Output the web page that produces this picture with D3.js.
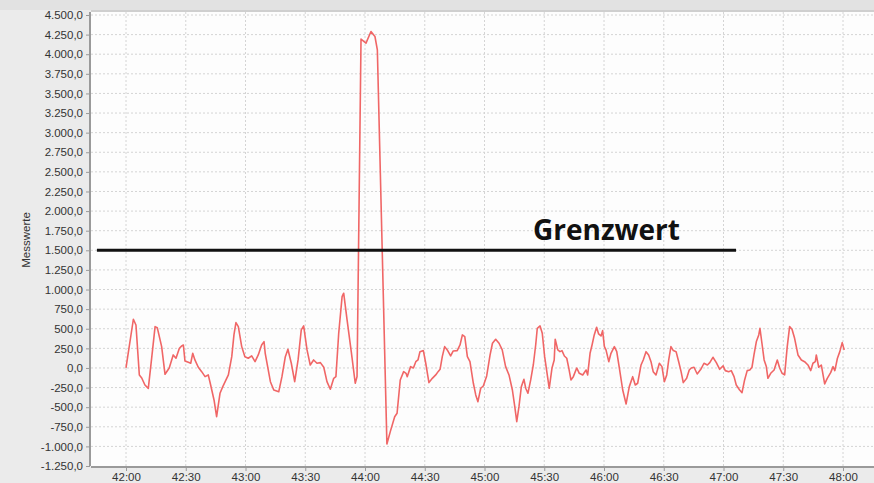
<!DOCTYPE html>
<html>
<head>
<meta charset="utf-8">
<script src="https://cdn.jsdelivr.net/npm/d3@7"></script>
<style>
  html, body { margin: 0; padding: 0; background: #ebebeb; }
  svg { display: block; }
</style>
</head>
<body>
<svg id="visualization" width="874" height="483"></svg>
<script>
// seconds after 42:00
const secs = [
  0, 3.7, 5.0, 6.7, 7.9, 9.5, 11.2, 12.9, 14.6, 15.7, 17.9, 19.6, 21.7, 23.7, 25.1, 26.8, 28.0, 28.8, 29.6,
  31.3, 32.5, 33.5, 34.6, 36.3, 38.0, 39.7, 41.3, 42.5, 44.2, 45.5, 47.2, 48.6, 50.2, 51.4, 53.1, 54.2,
  55.2, 56.4, 58.1, 59.7, 61.4, 63.1, 64.8, 66.4, 68.1, 69.3, 69.9, 72.5, 74.2, 76.7, 78.3, 80.0, 81.3,
  83.0, 84.7, 86.4, 88.0, 89.2, 90.9, 92.5, 94.2, 95.9, 97.6, 99.3, 100.9, 102.6, 104.3, 105.4, 106.8,
  108.5, 109.3, 111.0, 113.1, 115.1, 116.0, 118.0, 120.5, 123.0, 125.0, 126.2, 131.0, 132.7, 134.9,
  136.1, 137.7, 139.4, 140.6, 141.2, 142.9, 144.3, 145.5, 146.6, 147.6, 149.3, 150.5, 152.1, 153.8,
  155.5, 156.7, 157.7, 158.8, 160.0, 161.3, 163.0, 164.3, 166.3, 167.7, 168.9, 170.1, 171.4, 172.7,
  174.4, 175.6, 176.7, 178.1, 179.4, 181.1, 182.8, 184.0, 185.6, 187.3, 188.9, 190.6, 192.3, 194.0,
  195.2, 196.2, 197.3, 198.5, 199.8, 200.7, 201.8, 203.2, 204.5, 205.7, 206.5, 207.9, 209.0, 210.2,
  212.5, 213.9, 215.0, 215.5, 216.8, 217.9, 218.9, 220.1, 221.3, 222.3, 223.4, 224.6, 226.3, 227.6,
  229.3, 231.0, 231.8, 233.0, 234.0, 235.1, 236.3, 237.3, 238.5, 239.3, 240.2, 241.0, 242.4, 243.5,
  245.2, 246.4, 247.7, 249.4, 251.1, 252.7, 254.4, 255.7, 256.9, 258.6, 259.7, 261.1, 262.4, 263.6,
  264.7, 266.1, 267.8, 269.1, 270.3, 271.5, 272.5, 273.6, 274.8, 276.2, 277.5, 278.7, 279.8, 281.5,
  282.8, 283.8, 285.2, 286.8, 288.6, 290.2, 291.9, 293.1, 294.7, 296.4, 298.1, 299.8, 300.9, 302.6,
  303.9, 305.3, 306.4, 308.1, 309.3, 310.6, 311.9, 313.2, 314.3, 315.3, 316.5, 317.7, 318.3, 319.3,
  320.4, 321.5, 322.3, 323.7, 325.4, 327.0, 328.2, 329.4, 330.7, 332.0, 333.2, 334.4, 335.7, 337.4,
  339.1, 340.7, 342.4, 343.8, 344.9, 346.1, 346.6, 347.8, 349.1, 350.8, 352.1, 353.8, 355.0, 355.9,
  357.2, 358.4, 359.6, 360.6
];

const values = [
  0, 621, 548, -89, -128, -217, -260, 128, 527, 514, 272, -81, 0, 166, 124, 251, 281, 293, 89,
  72, 60, 187, 102, 9, -47, -111, -89, -217, -408, -621, -323, -238, -153, -89, 144, 421,
  578, 527, 272, 144, 124, 153, 80, 166, 293, 336, 187, -175, -281, -302, -111, 144, 238,
  60, -175, 102, 485, 536, 230, 38, 102, 60, 68, 9, -175, -272, -132, -111, 442,
  910, 953, 612, 208, -195, -111, 4193, 4141, 4290, 4226, 4056, -969, -812, -621,
  -578, -153, -47, -68, -111, 17, 0, 80, 102, 208, 221, 60, -187, -132,
  -89, -47, -17, 144, 272, 230, 153, 217, 221, 293, 421, 400, 144, 80,
  -195, -344, -430, -259, -230, -102, 166, 315, 366, 315, 230, 17, -89, -281,
  -493, -685, -493, -238, -145, -259, -323, -153, 38, 293, 506, 536, 442, 144,
  -259, 0, 102, 366, 230, 208, 221, 153, 124, 0, -153, -111, 0, -68,
  -89, -26, -89, 187, 293, 421, 519, 434, 408, 476, 272, 230, 80, 187,
  272, 208, 0, -281, -459, -238, -111, -217, -195, 38, 102, 208, 166, 80,
  -47, -89, 60, 17, -175, -89, 102, 272, 221, 208, 80, -47, -187, -132,
  -26, 0, 9, -77, -17, 60, 38, 68, 136, 68, -17, 26, -34, -47,
  -34, -111, -217, -281, -315, -153, -34, -26, 9, 166, 336, 421, 506, 315,
  102, 17, -132, -68, -26, 102, 0, -68, -89, 272, 527, 493, 378, 166,
  102, 80, 38, -34, 60, 80, 166, 9, 38, -204, -132, -60, 17, -34,
  124, 208, 323, 230
];

const yTicks = d3.range(-1250, 4501, 250);
const xTickSecs = d3.range(0, 361, 30);
const yLabel = "Messwerte";

const threshold = 1500;
const thresholdFrom = -14.6;
const thresholdTo = 306.3;
const thresholdLabel = "Grenzwert";

const svg = d3.select("#visualization");
const width = 874, height = 483;

const plot = { left: 91, right: 874, top: 12, bottom: 466 };

const t0 = new Date(2020, 0, 1, 0, 42, 0);
const toDate = s => new Date(t0.getTime() + s * 1000);

const x = d3.scaleTime()
  .domain([toDate(0), toDate(360)])
  .range([126, 843]);
const y = d3.scaleLinear()
  .domain([-1250, 4500])
  .range([466, 15]);

const de = d3.formatLocale({ decimal: ",", thousands: ".", grouping: [3], currency: ["", " €"], minus: "-" });
const fmtY = de.format(",.1f");
const fmtX = d3.timeFormat("%M:%S");

// frame
svg.append("rect").attr("width", width).attr("height", height).attr("fill", "#ebebeb");
svg.append("rect").attr("x", 0).attr("y", 0).attr("width", width).attr("height", 10).attr("fill", "#e2e2e2");
svg.append("rect")
  .attr("x", plot.left).attr("y", plot.top)
  .attr("width", plot.right - plot.left).attr("height", plot.bottom - plot.top)
  .attr("fill", "#fdfdfd");
svg.append("line")
  .attr("x1", plot.left).attr("x2", plot.right)
  .attr("y1", plot.top - 1).attr("y2", plot.top - 1)
  .attr("stroke", "#cfcfcf").attr("stroke-width", 2);

// grid
svg.append("g")
  .selectAll("line")
  .data(yTicks.slice(1))
  .join("line")
  .attr("x1", plot.left).attr("x2", plot.right)
  .attr("y1", d => y(d)).attr("y2", d => y(d))
  .attr("stroke", "#d4d4d4").attr("stroke-dasharray", "2,2");

svg.append("g")
  .selectAll("line")
  .data(xTickSecs)
  .join("line")
  .attr("x1", d => x(toDate(d))).attr("x2", d => x(toDate(d)))
  .attr("y1", plot.top).attr("y2", plot.bottom)
  .attr("stroke", "#d4d4d4").attr("stroke-dasharray", "2,2");

// axes
const yAxis = svg.append("g")
  .attr("transform", `translate(${plot.left - 1},0)`)
  .call(d3.axisLeft(y).tickValues(yTicks).tickFormat(fmtY).tickSize(4).tickPadding(3));
yAxis.select(".domain").attr("stroke", "#9a9a9a").attr("stroke-width", 2)
  .attr("d", `M0,${plot.top}V${plot.bottom}`);

const xAxis = svg.append("g")
  .attr("transform", `translate(0,${plot.bottom + 1})`)
  .call(d3.axisBottom(x).tickValues(xTickSecs.map(toDate)).tickFormat(fmtX).tickSize(4).tickPadding(2));
xAxis.select(".domain").attr("stroke", "#9a9a9a").attr("stroke-width", 2)
  .attr("d", `M${plot.left},0H${plot.right}`);

svg.selectAll(".tick line").attr("stroke", "#9a9a9a");
svg.selectAll(".tick text")
  .attr("font-family", "Liberation Sans, Arial, sans-serif")
  .attr("font-size", 11.5)
  .attr("fill", "#333");

svg.append("text")
  .attr("transform", "translate(30,240) rotate(-90)")
  .attr("text-anchor", "middle")
  .attr("font-family", "Liberation Sans, Arial, sans-serif")
  .attr("font-size", 11.5)
  .attr("fill", "#333")
  .text(yLabel);

// series
const series = secs.map((s, i) => ({ t: toDate(s), v: values[i] }));
svg.append("path")
  .datum(series)
  .attr("fill", "none")
  .attr("stroke", "#f06666")
  .attr("stroke-width", 1.6)
  .attr("stroke-linejoin", "round")
  .attr("d", d3.line().x(d => x(d.t)).y(d => y(d.v)));

// threshold
svg.append("line")
  .attr("x1", x(toDate(thresholdFrom))).attr("x2", x(toDate(thresholdTo)))
  .attr("y1", y(threshold)).attr("y2", y(threshold))
  .attr("stroke", "#111").attr("stroke-width", 3);

svg.append("text")
  .attr("x", 533)
  .attr("y", y(threshold) - 10)
  .attr("font-family", "Open Sans, sans-serif")
  .attr("font-weight", 700)
  .attr("font-size", 28)
  .attr("fill", "#111")
  .text(thresholdLabel);
</script>
</body>
</html>
